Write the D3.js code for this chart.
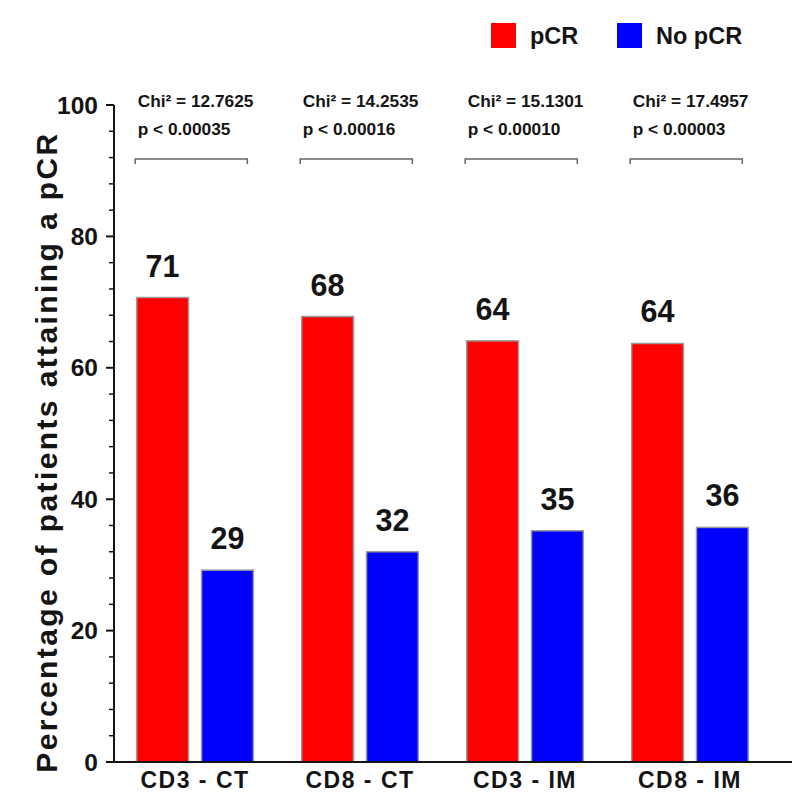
<!DOCTYPE html>
<html>
<head>
<meta charset="utf-8">
<script src="https://cdn.jsdelivr.net/npm/d3@7"></script>
<style>
  html, body { margin: 0; padding: 0; background: #fff; }
  svg { display: block; font-family: "Liberation Sans", Arial, sans-serif; }
</style>
</head>
<body>
<svg id="chart" width="800" height="807"></svg>
<script>
// ---- data ----
const categories = ["CD3 - CT", "CD8 - CT", "CD3 - IM", "CD8 - IM"];
const seriesNames = ["pCR", "No pCR"];
const pcrValues = [70.7, 67.8, 64.1, 63.7];
const noPcrValues = [29.2, 32.0, 35.2, 35.7];
const valueLabels = [["71", "29"], ["68", "32"], ["64", "35"], ["64", "36"]];
const chiLabels = ["Chi\u00B2 = 12.7625", "Chi\u00B2 = 14.2535", "Chi\u00B2 = 15.1301", "Chi\u00B2 = 17.4957"];
const pLabels = ["p < 0.00035", "p < 0.00016", "p < 0.00010", "p < 0.00003"];
const yTicks = [0, 20, 40, 60, 80, 100];
const yMinorTicks = d3.range(0, 101, 4);
const colors = ["#ff0000", "#0000ff"];
const yTitle = "Percentage of patients attaining a pCR";

const svg = d3.select("#chart");
const ink = "#141414";

const y = d3.scaleLinear().domain([0, 100]).range([762, 105]);
const x = d3.scaleBand().domain(categories).range([114, 771])
  .paddingInner(0.293).paddingOuter(0.1376);
const xs = d3.scaleBand().domain(seriesNames).range([0, x.bandwidth()])
  .paddingInner(0.201).paddingOuter(0);
const color = d3.scaleOrdinal().domain(seriesNames).range(colors);

// bars
const rows = categories.map((c, i) => ({
  cat: c,
  vals: [
    { s: seriesNames[0], v: pcrValues[i], label: valueLabels[i][0] },
    { s: seriesNames[1], v: noPcrValues[i], label: valueLabels[i][1] }
  ]
}));

const g = svg.selectAll("g.grp").data(rows).join("g")
  .attr("class", "grp")
  .attr("transform", d => `translate(${x(d.cat)},0)`);

g.selectAll("rect").data(d => d.vals).join("rect")
  .attr("x", d => xs(d.s))
  .attr("y", d => y(d.v))
  .attr("width", xs.bandwidth())
  .attr("height", d => y(0) - y(d.v))
  .attr("fill", d => color(d.s))
  .attr("stroke", "#9a9a9a")
  .attr("stroke-width", 1.5);

g.selectAll("text.val").data(d => d.vals).join("text")
  .attr("class", "val")
  .attr("x", d => xs(d.s) + xs.bandwidth() / 2)
  .attr("y", d => y(d.v) - 21)
  .attr("text-anchor", "middle")
  .attr("font-size", 30.5)
  .attr("font-weight", "bold")
  .attr("fill", ink)
  .text(d => d.label);

// chi / p annotations and brackets
g.append("text")
  .attr("x", 1)
  .attr("y", 107)
  .attr("font-size", 17.3)
  .attr("font-weight", "bold")
  .attr("fill", ink)
  .text((d, i) => chiLabels[i]);
g.append("text")
  .attr("x", 1)
  .attr("y", 135)
  .attr("font-size", 17.3)
  .attr("font-weight", "bold")
  .attr("fill", ink)
  .text((d, i) => pLabels[i]);
g.append("path")
  .attr("d", `M${-1.5},${164}V${159}H${x.bandwidth() - 6}V${164}`)
  .attr("fill", "none")
  .attr("stroke", "#666")
  .attr("stroke-width", 1.5);

// y axis
const yAxisG = svg.append("g").attr("transform", "translate(114,0)");
yAxisG.append("line")
  .attr("x1", 0).attr("x2", 0)
  .attr("y1", y(100)).attr("y2", y(0))
  .attr("stroke", ink).attr("stroke-width", 2);
yAxisG.selectAll("line.minor").data(yMinorTicks.filter(t => t % 20 !== 0)).join("line")
  .attr("class", "minor")
  .attr("x1", -5).attr("x2", 0)
  .attr("y1", d => y(d)).attr("y2", d => y(d))
  .attr("stroke", ink).attr("stroke-width", 1.5);
yAxisG.selectAll("line.major").data(yTicks).join("line")
  .attr("class", "major")
  .attr("x1", -8).attr("x2", 0)
  .attr("y1", d => y(d)).attr("y2", d => y(d))
  .attr("stroke", ink).attr("stroke-width", 2);
yAxisG.selectAll("text").data(yTicks).join("text")
  .attr("x", -16)
  .attr("y", d => y(d))
  .attr("dy", "0.35em")
  .attr("text-anchor", "end")
  .attr("font-size", 24.5)
  .attr("font-weight", "bold")
  .attr("fill", ink)
  .text(d => d);

// x axis
svg.append("line")
  .attr("x1", 108).attr("x2", 792)
  .attr("y1", y(0)).attr("y2", y(0))
  .attr("stroke", ink).attr("stroke-width", 2);
svg.selectAll("text.xl").data(categories).join("text")
  .attr("class", "xl")
  .attr("x", d => x(d) + x.bandwidth() / 2)
  .attr("y", 788)
  .attr("text-anchor", "middle")
  .attr("font-size", 23)
  .attr("font-weight", "bold")
  .attr("letter-spacing", 1.5)
  .attr("fill", ink)
  .text(d => d);

// y title
svg.append("text")
  .attr("transform", "translate(57,452) rotate(-90)")
  .attr("text-anchor", "middle")
  .attr("font-size", 30)
  .attr("font-weight", "bold")
  .attr("letter-spacing", 2.4)
  .attr("fill", ink)
  .text(yTitle);

// legend
const legendX = [491, 617];
const lg = svg.selectAll("g.leg").data(seriesNames).join("g")
  .attr("class", "leg")
  .attr("transform", (d, i) => `translate(${legendX[i]},23)`);
lg.append("rect")
  .attr("width", 25).attr("height", 25)
  .attr("fill", d => color(d));
lg.append("text")
  .attr("x", 39).attr("y", 20.5)
  .attr("font-size", 23.5)
  .attr("font-weight", "bold")
  .attr("fill", ink)
  .text(d => d);
</script>
</body>
</html>
